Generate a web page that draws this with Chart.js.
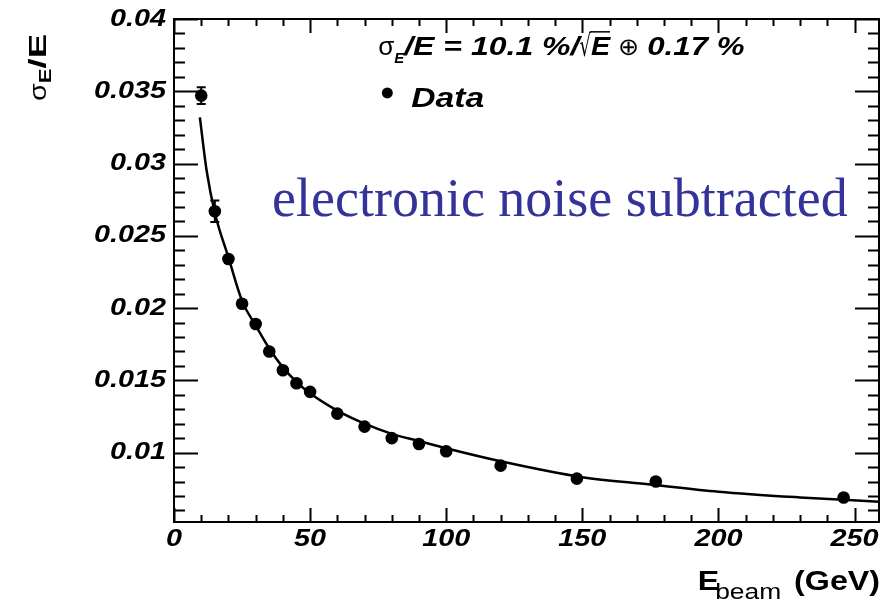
<!DOCTYPE html>
<html>
<head>
<meta charset="utf-8">
<script src="https://cdn.jsdelivr.net/npm/chart.js@4.4.1/dist/chart.umd.min.js"></script>
<style>
  html, body { margin: 0; padding: 0; background: #fff; }
  canvas { display: block; }
</style>
</head>
<body>
<canvas id="c" width="886" height="603"></canvas>
<script>
// beam energy (GeV) and relative resolution sigma_E/E
const energies = [10, 15, 20, 25, 30, 35, 40, 45, 50, 60, 70, 80, 90, 100, 120, 148, 177, 246];
const resolution = [0.0347, 0.0267, 0.0234, 0.0203, 0.0189, 0.0170, 0.0157, 0.0148, 0.0142, 0.0127,
                    0.0118, 0.0110, 0.0106, 0.0101, 0.0091, 0.0082, 0.0080, 0.0069];
const resolutionErr = [0.00058, 0.00074, 0.0002, 0.0002, 0.0002, 0.0002, 0.0002, 0.0002, 0.0002, 0.0002,
                       0.0002, 0.0002, 0.0002, 0.0002, 0.0002, 0.0002, 0.0002, 0.0002];

// fitted curve
const fitEnergies = [9.5, 12, 15, 20, 25, 30, 35, 40, 45, 50, 60, 70, 80, 90, 100, 120, 150, 175, 200, 230, 259];
const fitResolution = [0.0332, 0.0295, 0.0266, 0.0235, 0.0205, 0.0188, 0.0172, 0.0159, 0.0149, 0.0141, 0.0129,
                       0.0120, 0.0113, 0.0108, 0.0103, 0.0094, 0.0083, 0.0078, 0.0073, 0.0069, 0.0066];

const xTicks = [0, 50, 100, 150, 200, 250];
const yTicks = [0.01, 0.015, 0.02, 0.025, 0.03, 0.035, 0.04];

const X_MIN = 0, X_MAX = 259;
const Y_MIN = 0.0052, Y_MAX = 0.04;

const SANS = "'Liberation Sans', Arial, sans-serif";
const SERIF = "'Liberation Serif', 'Times New Roman', serif";
const DEJAVU = "'DejaVu Sans', sans-serif";

// draw text with a horizontal stretch (ROOT's Helvetica looks wide here)
function txt(ctx, s, x, y, font, o) {
  o = o || {};
  ctx.save();
  ctx.translate(x, y);
  ctx.scale(o.sx || 1, 1);
  ctx.font = font;
  ctx.fillStyle = o.color || '#000';
  ctx.textAlign = o.align || 'left';
  ctx.textBaseline = o.base || 'alphabetic';
  ctx.fillText(s, 0, 0);
  const w = ctx.measureText(s).width * (o.sx || 1);
  ctx.restore();
  return w;
}

function measure(ctx, s, font, sx) {
  ctx.save();
  ctx.font = font;
  const w = ctx.measureText(s).width * (sx || 1);
  ctx.restore();
  return w;
}

const errorBars = {
  id: 'errorBars',
  afterDatasetsDraw(chart) {
    const ctx = chart.ctx, xs = chart.scales.x, ys = chart.scales.y;
    ctx.save();
    ctx.strokeStyle = '#000';
    ctx.lineWidth = 2;
    energies.forEach((e, i) => {
      const px = xs.getPixelForValue(e);
      const y1 = ys.getPixelForValue(resolution[i] - resolutionErr[i]);
      const y2 = ys.getPixelForValue(resolution[i] + resolutionErr[i]);
      ctx.beginPath();
      ctx.moveTo(px, y1); ctx.lineTo(px, y2);
      ctx.moveTo(px - 4.5, y1); ctx.lineTo(px + 4.5, y1);
      ctx.moveTo(px - 4.5, y2); ctx.lineTo(px + 4.5, y2);
      ctx.stroke();
    });
    ctx.restore();
  }
};

const rootFrame = {
  id: 'rootFrame',
  afterDraw(chart) {
    const ctx = chart.ctx, xs = chart.scales.x, ys = chart.scales.y;
    const a = chart.chartArea;
    ctx.save();
    ctx.strokeStyle = '#000';
    ctx.lineWidth = 2;
    ctx.strokeRect(a.left, a.top, a.right - a.left, a.bottom - a.top);

    // ticks on all four sides, pointing inwards
    ctx.beginPath();
    for (let i = 0; i * 10 <= X_MAX; i++) {
      const px = Math.round(xs.getPixelForValue(i * 10)) + 0.5;
      const len = i % 5 === 0 ? 14 : 7;
      ctx.moveTo(px, a.bottom); ctx.lineTo(px, a.bottom - len);
      ctx.moveTo(px, a.top); ctx.lineTo(px, a.top + len);
    }
    for (let i = 6; i <= 40; i++) {
      const py = Math.round(ys.getPixelForValue(i / 1000)) + 0.5;
      const len = i % 5 === 0 ? 24 : 11;
      ctx.moveTo(a.left, py); ctx.lineTo(a.left + len, py);
      ctx.moveTo(a.right, py); ctx.lineTo(a.right - len, py);
    }
    ctx.stroke();

    // tick labels
    const tickFont = 'italic bold 24px ' + SANS;
    xTicks.forEach(v => {
      txt(ctx, String(v), xs.getPixelForValue(v), a.bottom + 17, tickFont, { align: 'center', base: 'middle', sx: 1.2 });
    });
    yTicks.forEach(v => {
      txt(ctx, String(Number(v.toFixed(3))), a.left - 8, ys.getPixelForValue(v), tickFont, { align: 'right', base: 'middle', sx: 1.2 });
    });

    // y title: sigma_E / E, rotated
    ctx.save();
    ctx.translate(46, 101);
    ctx.rotate(-Math.PI / 2);
    let x = 0;
    x += txt(ctx, 'σ', x, 0, '24px ' + SANS, { sx: 1.2 });
    x += txt(ctx, 'E', x, 5, 'bold 17px ' + SANS, { sx: 1.3 });
    txt(ctx, '/E', x, 0, 'bold 23px ' + SANS, { sx: 1.6 });
    ctx.restore();

    // x title: E_beam (GeV), right aligned to the frame
    const titleFont = 'bold 28px ' + SANS, subFont = '22px ' + SANS;
    const wGev = measure(ctx, ' (GeV)', titleFont, 1.15);
    const wBeam = measure(ctx, 'beam', subFont, 1.2);
    const xr = a.right + 1;
    txt(ctx, ' (GeV)', xr - wGev, 590, titleFont, { sx: 1.15 });
    txt(ctx, 'beam', xr - wGev - wBeam - 4, 599, subFont, { sx: 1.2 });
    txt(ctx, 'E', xr - wGev - wBeam, 590, titleFont, { sx: 1.15, align: 'right' });

    // legend: fit formula and data marker
    const lx = xs.getPixelForValue(75), ly = ys.getPixelForValue(0.03752);
    const bi = 'italic bold 25px ' + SANS;
    x = lx;
    x += txt(ctx, 'σ', x, ly, '26px ' + SANS, { sx: 1.0 });
    x += txt(ctx, 'E', x, ly + 8, 'italic bold 15px ' + SANS, { sx: 1.0 });
    x += txt(ctx, '/E = 10.1 %/', x, ly, bi, { sx: 1.28 });
    x += txt(ctx, '√', x, ly + 1, '30px ' + DEJAVU, { sx: 0.6 });
    const ex = x;
    x += txt(ctx, 'E', x, ly, bi, { sx: 1.15 });
    ctx.lineWidth = 1.5;
    ctx.beginPath();
    ctx.moveTo(ex - 1, ly - 23); ctx.lineTo(x, ly - 23);
    ctx.stroke();
    x += txt(ctx, ' ⊕ ', x, ly, '24px ' + DEJAVU, { sx: 1.05 });
    txt(ctx, '0.17 %', x, ly, bi, { sx: 1.25 });

    const dx = xs.getPixelForValue(78), dy = ys.getPixelForValue(0.03392);
    ctx.fillStyle = '#000';
    ctx.beginPath();
    ctx.arc(dx + 1, dy - 14, 5.5, 0, Math.PI * 2);
    ctx.fill();
    txt(ctx, 'Data', dx + 25, dy, 'italic bold 28px ' + SANS, { sx: 1.2 });

    // annotation
    txt(ctx, 'electronic noise subtracted', xs.getPixelForValue(36), ys.getPixelForValue(0.02638),
        '54px ' + SERIF, { color: '#333399' });
    ctx.restore();
  }
};

new Chart(document.getElementById('c'), {
  type: 'scatter',
  data: {
    datasets: [
      {
        label: 'Data',
        data: energies.map((e, i) => ({ x: e, y: resolution[i] })),
        backgroundColor: '#000',
        borderWidth: 0,
        pointRadius: 6.3,
        showLine: false
      },
      {
        type: 'line',
        label: 'fit',
        data: fitEnergies.map((e, i) => ({ x: e, y: fitResolution[i] })),
        borderColor: '#000',
        borderWidth: 2.5,
        pointRadius: 0,
        fill: false,
        cubicInterpolationMode: 'monotone'
      }
    ]
  },
  options: {
    responsive: false,
    animation: false,
    devicePixelRatio: 1,
    layout: { padding: { top: 19, right: 7, left: 0, bottom: 0 } },
    plugins: { legend: { display: false }, tooltip: { enabled: false } },
    scales: {
      x: {
        type: 'linear', min: X_MIN, max: X_MAX,
        grid: { display: false }, border: { display: false },
        ticks: { display: false, stepSize: 50, includeBounds: false },
        afterFit: s => { s.height = 81; }
      },
      y: {
        type: 'linear', min: Y_MIN, max: Y_MAX,
        grid: { display: false }, border: { display: false },
        ticks: { display: false, stepSize: 0.005, includeBounds: false },
        afterFit: s => { s.width = 174; }
      }
    }
  },
  plugins: [errorBars, rootFrame]
});
</script>
</body>
</html>
